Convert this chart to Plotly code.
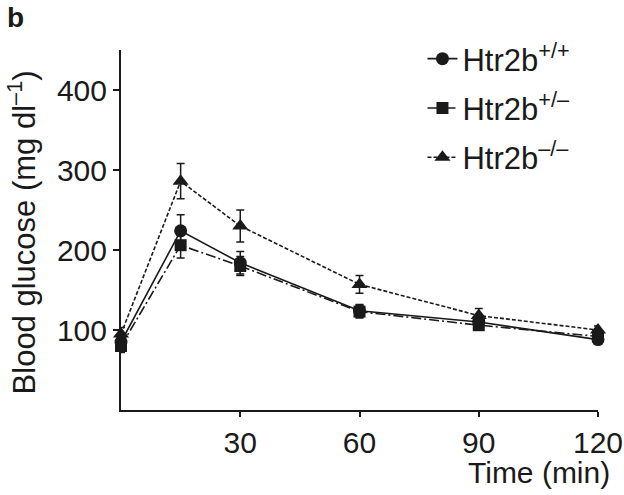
import plotly.graph_objects as go

time_min = [0, 15, 30, 60, 90, 120]
wt = [85, 224, 184, 124, 110, 88]
wt_err = [8, 20, 14, 8, 6, 5]
het = [80, 206, 180, 123, 106, 92]
het_err = [8, 16, 12, 8, 6, 5]
ko = [95, 286, 230, 157, 118, 100]
ko_err = [8, 22, 20, 11, 9, 5]

x_ticks = [30, 60, 90, 120]
y_ticks = [100, 200, 300, 400]

names = ["Htr2b<sup>+/+</sup>", "Htr2b<sup>+/–</sup>", "Htr2b<sup>–/–</sup>"]

FONT = "Liberation Sans, Arial, sans-serif"
C = "#1a1a1a"

fig = go.Figure()
series = [
    (wt, wt_err, names[0], "circle", "solid", 13),
    (het, het_err, names[1], "square", "10px,3px,2px,3px", 12),
    (ko, ko_err, names[2], "triangle-up", "4px,2px", 14),
]
for i, (y, e, n, sym, dash, ms) in enumerate(series):
    fig.add_trace(go.Scatter(
        x=time_min, y=y, name=n, mode="lines+markers", legendgroup=f"g{i}",
        line=dict(color=C, width=1.6, dash=dash),
        marker=dict(symbol=sym, size=ms, color=C),
        error_y=dict(type="data", array=e, visible=True, color=C, thickness=1.5, width=4),
        cliponaxis=False,
    ))

fig.update_layout(
    width=624, height=495,
    margin=dict(l=121, r=26, t=50, b=85, autoexpand=False),
    paper_bgcolor="white", plot_bgcolor="white",
    font=dict(family=FONT, size=31, color=C),
    showlegend=True,
    legend=dict(x=0.632, y=1.05, xanchor="left", yanchor="top",
                font=dict(size=31, family=FONT, color=C),
                bgcolor="rgba(0,0,0,0)", tracegroupgap=6, itemwidth=30),
    xaxis=dict(range=[0, 120], tickvals=x_ticks, showline=True, linecolor=C, linewidth=2,
               ticks="outside", ticklen=5, tickcolor=C, tickwidth=2, showgrid=False,
               zeroline=False, automargin=False, tickfont=dict(size=30, family=FONT, color=C)),
    yaxis=dict(range=[0, 450], tickvals=y_ticks, showline=True, linecolor=C, linewidth=2,
               ticks="outside", ticklen=6, tickcolor=C, tickwidth=2, showgrid=False,
               zeroline=False, automargin=False, tickfont=dict(size=30, family=FONT, color=C)),
    annotations=[
        dict(text="<b>b</b>", x=-0.244, y=1.14, xref="paper", yref="paper", showarrow=False,
             xanchor="left", yanchor="top", font=dict(size=28, family=FONT, color=C)),
        dict(text="Time (min)", x=1.03, y=-0.122, xref="paper", yref="paper", showarrow=False,
             xanchor="right", yanchor="top", font=dict(size=30, family=FONT, color=C)),
        dict(text="Blood glucose (mg dl<sup>–1</sup>)", x=-0.207, y=0.494, xref="paper", yref="paper",
             showarrow=False, textangle=-90, xanchor="center", yanchor="middle",
             font=dict(size=31, family=FONT, color=C)),
    ],
)

fig.write_html("out.html", config={"displayModeBar": False},
               post_script="document.body.style.margin='0';")
